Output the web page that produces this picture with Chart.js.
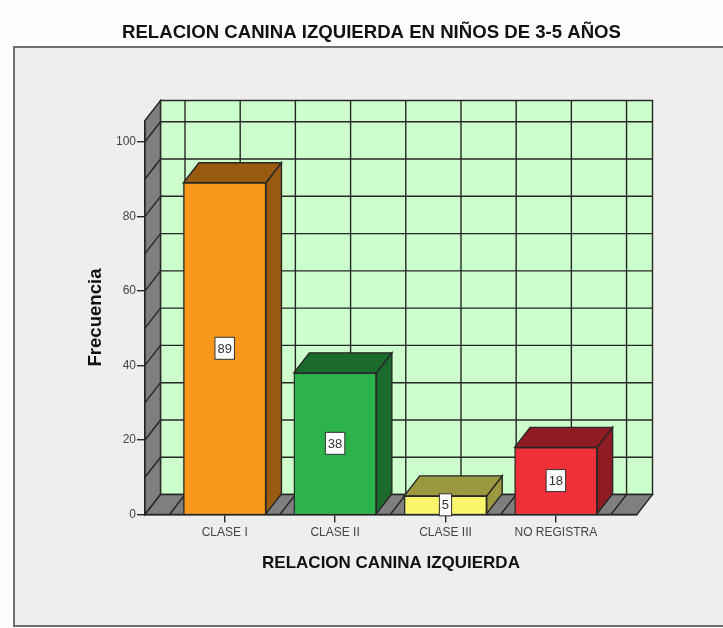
<!DOCTYPE html>
<html>
<head>
<meta charset="utf-8">
<title>Relacion canina izquierda</title>
<script src="https://cdn.jsdelivr.net/npm/chart.js@4"></script>
<style>
    html, body { margin: 0; padding: 0; background: #fdfdfd; }
    #wrap { width: 723px; height: 628px; overflow: hidden; }
    canvas { filter: blur(0.35px); }
</style>
</head>
<body>
<div id="wrap"><canvas id="grafico" width="723" height="628"></canvas></div>
<script>
const categorias = ['CLASE I', 'CLASE II', 'CLASE III', 'NO REGISTRA'];
const frecuencias = [89, 38, 5, 18];
const ticksY = [0, 20, 40, 60, 80, 100];
const lineasY = [10, 20, 30, 40, 50, 60, 70, 80, 90, 100];
const lineasX = [-0.5, 0, 0.5, 1, 1.5, 2, 2.5, 3, 3.5];
const colorFrente = ['#f8971b', '#2cb34a', '#fbf56c', '#f03039'];
const colorFondo = ['#995b10', '#1a6b2c', '#9c9840', '#8f1c22'];

// profundidad de la caja 3D
const DX = 15.5;
const DY = 20;
const LINEA = '#262626';

function linea(ctx, x1, y1, x2, y2) {
    ctx.beginPath();
    ctx.moveTo(x1, y1);
    ctx.lineTo(x2, y2);
    ctx.stroke();
}

function poligono(ctx, puntos, relleno) {
    ctx.beginPath();
    puntos.forEach((p, i) => i ? ctx.lineTo(p[0], p[1]) : ctx.moveTo(p[0], p[1]));
    ctx.closePath();
    ctx.fillStyle = relleno;
    ctx.fill();
    ctx.stroke();
}

const caja3d = {
    id: 'caja3d',
    beforeDraw(chart) {
        const ctx = chart.ctx;
        ctx.save();
        ctx.fillStyle = '#eeeeee';
        ctx.strokeStyle = '#6e6e6e';
        ctx.lineWidth = 2;
        ctx.fillRect(14, 47, 720, 579);
        ctx.strokeRect(14, 47, 720, 579);
        ctx.restore();
    },
    beforeDatasetsDraw(chart) {
        const ctx = chart.ctx;
        const a = chart.chartArea;
        const sx = chart.scales.x;
        const sy = chart.scales.y;
        ctx.save();
        ctx.strokeStyle = LINEA;
        ctx.lineWidth = 1.4;

        // pared del fondo, pared izquierda y piso
        poligono(ctx, [[a.left + DX, a.top - DY], [a.right + DX, a.top - DY], [a.right + DX, a.bottom - DY], [a.left + DX, a.bottom - DY]], '#ccffcc');
        poligono(ctx, [[a.left, a.top], [a.left + DX, a.top - DY], [a.left + DX, a.bottom - DY], [a.left, a.bottom]], '#7f7f7f');
        poligono(ctx, [[a.left, a.bottom], [a.left + DX, a.bottom - DY], [a.right + DX, a.bottom - DY], [a.right, a.bottom]], '#7f7f7f');

        lineasY.forEach(v => {
            const y = sy.getPixelForValue(v);
            linea(ctx, a.left + DX, y - DY, a.right + DX, y - DY);
            linea(ctx, a.left, y, a.left + DX, y - DY);
        });
        lineasX.forEach(v => {
            const x = sx.getPixelForValue(v);
            linea(ctx, x + DX, a.top - DY, x + DX, a.bottom - DY);
            linea(ctx, x, a.bottom, x + DX, a.bottom - DY);
        });

        // costado y tapa de cada barra
        chart.getDatasetMeta(0).data.forEach((b, i) => {
            const x1 = b.x - b.width / 2;
            const x2 = b.x + b.width / 2;
            poligono(ctx, [[x2, b.y], [x2 + DX, b.y - DY], [x2 + DX, b.base - DY], [x2, b.base]], colorFondo[i]);
            poligono(ctx, [[x1, b.y], [x1 + DX, b.y - DY], [x2 + DX, b.y - DY], [x2, b.y]], colorFondo[i]);
        });
        ctx.restore();
    },
    afterDatasetsDraw(chart) {
        const ctx = chart.ctx;
        ctx.save();
        ctx.font = '13px "Liberation Sans"';
        ctx.textAlign = 'center';
        ctx.textBaseline = 'middle';
        chart.getDatasetMeta(0).data.forEach((b, i) => {
            const txt = String(frecuencias[i]);
            const w = ctx.measureText(txt).width + 5;
            const cy = (b.y + b.base) / 2;
            ctx.fillStyle = '#ffffff';
            ctx.strokeStyle = '#333333';
            ctx.lineWidth = 1;
            ctx.fillRect(b.x - w / 2, cy - 11, w, 22);
            ctx.strokeRect(b.x - w / 2, cy - 11, w, 22);
            ctx.fillStyle = '#333333';
            ctx.fillText(txt, b.x, cy + 1);
        });
        ctx.restore();
    }
};

new Chart(document.getElementById('grafico'), {
    type: 'bar',
    data: {
        datasets: [{
            data: frecuencias.map((v, i) => ({ x: i, y: v })),
            backgroundColor: colorFrente,
            borderColor: LINEA,
            borderWidth: 1.4,
            barThickness: 82.5
        }]
    },
    plugins: [caja3d],
    options: {
        responsive: false,
        animation: false,
        layout: { padding: { left: 20 } },
        plugins: {
            legend: { display: false },
            tooltip: { enabled: false },
            title: {
                display: true,
                text: 'RELACION CANINA IZQUIERDA EN NIÑOS DE 3-5 AÑOS',
                color: '#111111',
                font: { family: '"Liberation Sans"', size: 18.6, weight: 'bold' },
                padding: { top: 22, bottom: 76.2 }
            }
        },
        scales: {
            x: {
                type: 'linear',
                offset: false,
                min: -0.722,
                max: 3.735,
                afterBuildTicks(scale) { scale.ticks = categorias.map((c, i) => ({ value: i })); },
                afterFit(scale) { scale.height = 113.5; },
                grid: { offset: false, drawOnChartArea: false, color: LINEA, tickLength: 8, lineWidth: 1.4 },
                border: { color: LINEA, width: 1.4 },
                ticks: {
                    color: '#444444',
                    padding: 3,
                    maxRotation: 0,
                    font: { family: '"Liberation Sans"', size: 12 },
                    callback: v => categorias[v]
                },
                title: {
                    display: true,
                    text: 'RELACION CANINA IZQUIERDA',
                    color: '#111111',
                    font: { family: '"Liberation Sans"', size: 17, weight: 'bold' },
                    padding: { top: 14, bottom: 54 }
                }
            },
            y: {
                min: 0,
                max: 105.7,
                afterBuildTicks(scale) { scale.ticks = ticksY.map(v => ({ value: v })); },
                afterFit(scale) { scale.width = 125; },
                grid: { drawOnChartArea: false, color: LINEA, tickLength: 8, lineWidth: 1.4 },
                border: { color: LINEA, width: 1.4 },
                ticks: {
                    color: '#444444',
                    padding: 1,
                    font: { family: '"Liberation Sans"', size: 12 }
                },
                title: {
                    display: true,
                    text: 'Frecuencia',
                    color: '#111111',
                    font: { family: '"Liberation Sans"', size: 18.6, weight: 'bold' },
                    padding: { top: 65, bottom: 0 }
                }
            },
            // eje vacío: solo reserva el margen derecho
            derecha: {
                position: 'right',
                display: true,
                min: 0,
                max: 1,
                afterFit(scale) { scale.width = 86; },
                grid: { display: false },
                border: { display: false },
                ticks: { display: false }
            }
        }
    }
});
</script>
</body>
</html>
